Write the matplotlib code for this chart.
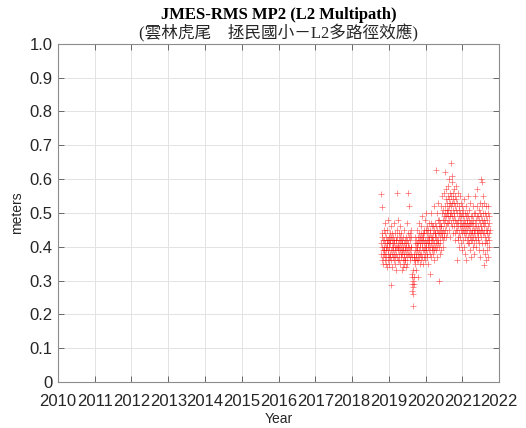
import numpy as np
import pandas as pd
import matplotlib
matplotlib.use("Agg")
import matplotlib.pyplot as plt

# MP2 multipath RMS (meters), one value every 2 days starting 2018-10-16
start_date = "2018-10-16"
mp2_rows = [
    [0.41, 0.556, 0.38, 0.43, 0.36, 0.518, 0.40, 0.44, 0.37, 0.39, 0.42, 0.35, 0.45, 0.40, 0.38],
    [0.39, 0.42, 0.36, 0.44, 0.41, 0.38, 0.47, 0.40, 0.35, 0.43, 0.39, 0.37, 0.42, 0.34, 0.41],
    [0.40, 0.45, 0.38, 0.36, 0.42, 0.39, 0.48, 0.41, 0.37, 0.43, 0.35, 0.40, 0.44, 0.38, 0.42],
    [0.41, 0.37, 0.287, 0.43, 0.39, 0.46, 0.36, 0.40, 0.42, 0.38, 0.34, 0.44, 0.40, 0.37, 0.41],
    [0.39, 0.43, 0.36, 0.41, 0.47, 0.38, 0.42, 0.35, 0.40, 0.44, 0.37, 0.39, 0.42, 0.33, 0.40],
    [0.42, 0.38, 0.45, 0.40, 0.56, 0.37, 0.43, 0.39, 0.41, 0.36, 0.48, 0.40, 0.44, 0.38, 0.42],
    [0.40, 0.36, 0.43, 0.39, 0.46, 0.41, 0.35, 0.42, 0.38, 0.44, 0.40, 0.37, 0.33, 0.41, 0.39],
    [0.38, 0.42, 0.36, 0.40, 0.34, 0.43, 0.39, 0.37, 0.45, 0.38, 0.41, 0.35, 0.40, 0.36, 0.42],
    [0.39, 0.36, 0.43, 0.38, 0.41, 0.34, 0.40, 0.47, 0.37, 0.42, 0.39, 0.35, 0.44, 0.38, 0.40],
    [0.41, 0.56, 0.38, 0.43, 0.40, 0.52, 0.36, 0.44, 0.39, 0.42, 0.37, 0.45, 0.40, 0.38, 0.43],
    [0.40, 0.37, 0.32, 0.29, 0.27, 0.31, 0.225, 0.28, 0.30, 0.26, 0.33, 0.29, 0.36, 0.31, 0.38],
    [0.37, 0.41, 0.35, 0.39, 0.43, 0.36, 0.40, 0.33, 0.38, 0.42, 0.37, 0.45, 0.39, 0.36, 0.41],
    [0.40, 0.31, 0.43, 0.38, 0.41, 0.36, 0.44, 0.39, 0.47, 0.37, 0.42, 0.40, 0.35, 0.43, 0.38],
    [0.41, 0.44, 0.38, 0.42, 0.36, 0.46, 0.40, 0.43, 0.37, 0.49, 0.41, 0.39, 0.44, 0.35, 0.42],
    [0.43, 0.39, 0.45, 0.41, 0.37, 0.44, 0.40, 0.48, 0.38, 0.42, 0.36, 0.45, 0.41, 0.39, 0.50],
    [0.40, 0.44, 0.38, 0.42, 0.46, 0.37, 0.43, 0.41, 0.35, 0.45, 0.40, 0.47, 0.39, 0.43, 0.41],
    [0.42, 0.32, 0.45, 0.40, 0.44, 0.38, 0.47, 0.41, 0.43, 0.37, 0.50, 0.42, 0.39, 0.46, 0.40],
    [0.43, 0.40, 0.46, 0.38, 0.44, 0.42, 0.52, 0.39, 0.45, 0.41, 0.36, 0.47, 0.43, 0.40, 0.44],
    [0.44, 0.41, 0.627, 0.39, 0.46, 0.43, 0.50, 0.40, 0.45, 0.42, 0.37, 0.48, 0.44, 0.41, 0.53],
    [0.42, 0.46, 0.30, 0.44, 0.40, 0.48, 0.43, 0.38, 0.47, 0.45, 0.41, 0.52, 0.44, 0.39, 0.46],
    [0.46, 0.43, 0.50, 0.44, 0.55, 0.42, 0.48, 0.45, 0.40, 0.51, 0.47, 0.44, 0.56, 0.43, 0.49],
    [0.48, 0.52, 0.45, 0.62, 0.50, 0.46, 0.54, 0.49, 0.43, 0.57, 0.51, 0.47, 0.53, 0.44, 0.50],
    [0.51, 0.47, 0.55, 0.49, 0.58, 0.45, 0.52, 0.60, 0.48, 0.54, 0.50, 0.43, 0.56, 0.49, 0.53],
    [0.50, 0.648, 0.47, 0.55, 0.52, 0.59, 0.46, 0.53, 0.49, 0.61, 0.51, 0.44, 0.56, 0.48, 0.54],
    [0.49, 0.53, 0.46, 0.57, 0.50, 0.44, 0.55, 0.48, 0.52, 0.42, 0.58, 0.47, 0.51, 0.45, 0.54],
    [0.47, 0.36, 0.50, 0.45, 0.53, 0.43, 0.48, 0.56, 0.46, 0.42, 0.51, 0.44, 0.49, 0.40, 0.52],
    [0.46, 0.50, 0.43, 0.48, 0.55, 0.45, 0.41, 0.49, 0.47, 0.53, 0.44, 0.39, 0.50, 0.46, 0.52],
    [0.45, 0.49, 0.42, 0.47, 0.51, 0.44, 0.40, 0.48, 0.54, 0.46, 0.43, 0.50, 0.38, 0.47, 0.45],
    [0.46, 0.36, 0.49, 0.44, 0.52, 0.47, 0.42, 0.50, 0.45, 0.48, 0.41, 0.55, 0.46, 0.43, 0.49],
    [0.44, 0.48, 0.41, 0.46, 0.51, 0.43, 0.39, 0.47, 0.45, 0.53, 0.42, 0.49, 0.44, 0.37, 0.47],
    [0.45, 0.42, 0.49, 0.44, 0.47, 0.40, 0.52, 0.46, 0.43, 0.48, 0.38, 0.45, 0.50, 0.44, 0.41],
    [0.47, 0.43, 0.50, 0.45, 0.55, 0.42, 0.48, 0.46, 0.40, 0.52, 0.44, 0.49, 0.57, 0.45, 0.43],
    [0.44, 0.49, 0.42, 0.46, 0.39, 0.51, 0.45, 0.48, 0.41, 0.53, 0.44, 0.47, 0.37, 0.50, 0.45],
    [0.46, 0.60, 0.43, 0.49, 0.59, 0.45, 0.52, 0.41, 0.48, 0.55, 0.44, 0.50, 0.47, 0.39, 0.53],
    [0.44, 0.48, 0.345, 0.46, 0.41, 0.50, 0.43, 0.38, 0.47, 0.52, 0.42, 0.45, 0.36, 0.49, 0.44],
    [0.45, 0.41, 0.48, 0.39, 0.50, 0.43, 0.46, 0.37, 0.52, 0.44, 0.40, 0.47, 0.42, 0.49, 0.45],
]
year_ticks = list(range(2010, 2023))
y_ticks = [0, 0.1, 0.2, 0.3, 0.4, 0.5, 0.6, 0.7, 0.8, 0.9, 1.0]
y_labels = ["0", "0.1", "0.2", "0.3", "0.4", "0.5", "0.6", "0.7", "0.8", "0.9", "1.0"]
title_1 = "JMES-RMS MP2 (L2 Multipath)"
title_2 = "(雲林虎尾\u3000拯民國小－L2多路徑效應)"

mp2 = np.concatenate([np.array(r) for r in mp2_rows])
dates = pd.date_range(start_date, periods=len(mp2), freq="2D")
dec_year = dates.year + (dates.dayofyear - 1) / np.where(dates.is_leap_year, 366, 365)

fig = plt.figure(figsize=(5.26, 4.28), dpi=100)
ax = fig.add_axes([0.110, 0.1075, 0.839, 0.790])

ax.plot(dec_year, mp2, "+", color="red", markersize=5, markeredgewidth=0.5, alpha=0.6)

ax.set_xlim(2010, 2022)
ax.set_ylim(0, 1)
ax.set_xticks(year_ticks)
ax.set_xticklabels([str(y) for y in year_ticks], family="Liberation Sans", fontsize=12, color="#262626")
ax.set_yticks(y_ticks)
ax.set_yticklabels(y_labels, family="Liberation Sans", fontsize=12, color="#262626")
ax.tick_params(direction="in", top=True, right=True, length=4, width=0.6, color="#555555")
ax.tick_params(axis="x", pad=9)
ax.tick_params(axis="y", pad=4)
ax.grid(True, color="#e3e3e3", linewidth=0.7)
ax.set_axisbelow(True)
for s in ax.spines.values():
    s.set_color("#8c8c8c")
    s.set_linewidth(0.8)

ax.set_xlabel("Year", family="Liberation Sans", fontsize=10, color="#262626", labelpad=2)
ax.set_ylabel("meters", family="Liberation Sans", fontsize=10, color="#262626", labelpad=4)

fig.text(0.53, 0.965, title_1, ha="center", va="center", fontsize=12, fontweight="bold",
         family="Liberation Serif", color="black")
fig.text(0.53, 0.922, title_2, ha="center", va="center", fontsize=12,
         family=["Liberation Serif", "Noto Sans CJK TC"], color="#262626")

fig.savefig("out.png", dpi=100)
